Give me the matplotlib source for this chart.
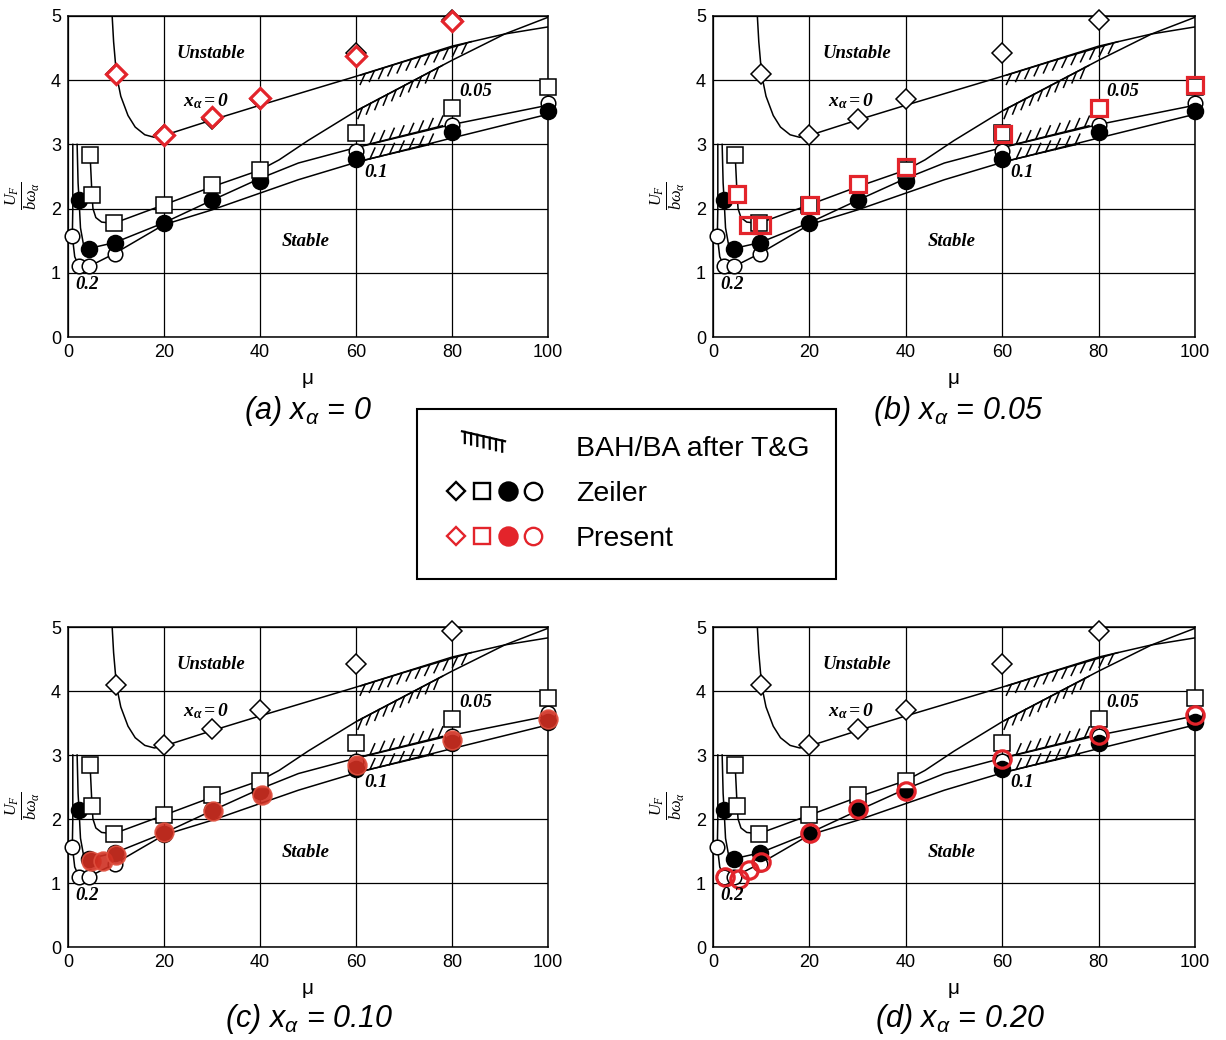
import numpy as np
import matplotlib
matplotlib.use("Agg")
import matplotlib.pyplot as plt
from matplotlib import patheffects
from matplotlib.lines import Line2D
from matplotlib.legend_handler import HandlerBase, HandlerTuple

plt.rcParams["font.family"] = "Liberation Sans"
plt.rcParams["mathtext.fontset"] = "custom"
plt.rcParams["mathtext.rm"] = "Liberation Serif"
plt.rcParams["mathtext.it"] = "Liberation Serif:italic"
plt.rcParams["mathtext.bf"] = "Liberation Serif:bold"
plt.rcParams["mathtext.bfit"] = "Liberation Serif:bold:italic"
plt.rcParams["mathtext.sf"] = "Liberation Sans:italic"

RED = "#e3242b"

# --- Theodorsen & Garrick curves (same background in every panel) ---
tg0_mu = [9.2, 9.5, 10.1, 11, 12.5, 14, 16, 18, 20, 30, 40, 60, 80, 91, 100]
tg0_y = [5.0, 4.6, 4.08, 3.75, 3.45, 3.27, 3.15, 3.11, 3.14, 3.38, 3.61, 4.06, 4.53, 4.72, 4.83]

tg05_mu = [4.6, 5.0, 5.2, 5.8, 7.0, 9.5, 20, 30, 40, 44, 50, 60, 80, 91, 100]
tg05_y = [2.84, 2.21, 2.0, 1.86, 1.79, 1.77, 2.06, 2.34, 2.6, 2.76, 3.06, 3.52, 4.31, 4.72, 4.98]

tg10_mu = [1.9, 2.1, 2.3, 2.6, 3.2, 4.4, 9.7, 20, 30, 40, 48, 60, 80, 100]
tg10_y = [3.0, 2.4, 2.14, 1.7, 1.45, 1.38, 1.47, 1.78, 2.13, 2.47, 2.71, 2.95, 3.31, 3.61]

tg20_mu = [1.0, 1.0, 0.9, 1.4, 2.3, 4.4, 9.7, 20, 30, 48, 60, 80, 100]
tg20_y = [3.0, 2.0, 1.57, 1.25, 1.1, 1.1, 1.3, 1.75, 1.98, 2.45, 2.72, 3.1, 3.47]

# --- BAH/BA after T&G (hatched segments) ---
bah0_mu, bah0_y = [61, 70, 84], [4.08, 4.29, 4.60]
bah05_mu, bah05_y = [60.5, 78], [3.54, 4.23]
bah10_mu, bah10_y = [62, 78], [2.99, 3.29]
bah20_mu, bah20_y = [62, 76], [2.76, 3.01]

# --- Zeiler points ---
z_dia_mu = [10, 20, 30, 40, 60, 80]
z_dia_y = [4.1, 3.15, 3.4, 3.7, 4.42, 4.93]
z_sq_mu = [4.5, 4.9, 9.6, 20, 30, 40, 60, 80, 100]
z_sq_y = [2.84, 2.21, 1.77, 2.06, 2.37, 2.6, 3.18, 3.56, 3.89]
z_fc_mu = [2.2, 4.4, 9.7, 20, 30, 40, 60, 80, 100]
z_fc_y = [2.14, 1.37, 1.47, 1.77, 2.14, 2.43, 2.78, 3.19, 3.52]
z_oc_mu = [0.9, 2.3, 4.4, 9.7, 60, 80, 100]
z_oc_y = [1.57, 1.1, 1.1, 1.3, 2.9, 3.3, 3.65]

# --- Present points ---
p_a_mu = [10, 20, 30, 40, 60, 80]
p_a_y = [4.1, 3.14, 3.42, 3.73, 4.37, 4.92]
p_b_mu = [4.9, 7.3, 10.2, 20.2, 30, 40, 60.2, 80, 100]
p_b_y = [2.22, 1.75, 1.75, 2.06, 2.38, 2.65, 3.16, 3.57, 3.92]
p_c_mu = [4.7, 7.2, 10.1, 20, 30.2, 40.4, 60.2, 80, 100]
p_c_y = [1.34, 1.34, 1.44, 1.80, 2.12, 2.38, 2.85, 3.23, 3.56]
p_d_mu = [2.5, 5.3, 7.5, 10, 20.2, 30, 40, 60, 80, 100]
p_d_y = [1.09, 1.07, 1.2, 1.33, 1.78, 2.15, 2.44, 2.93, 3.31, 3.63]

captions = ["(a) $\\mathsf{x_\\alpha}$ = 0", "(b) $\\mathsf{x_\\alpha}$ = 0.05",
            "(c) $\\mathsf{x_\\alpha}$ = 0.10", "(d) $\\mathsf{x_\\alpha}$ = 0.20"]

present = [
    (p_a_mu, p_a_y, dict(marker="D", ms=10.5, mfc="white", mec=RED, mew=2.3)),
    (p_b_mu, p_b_y, dict(marker="s", ms=12, mfc="none", mec=RED, mew=2.3)),
    (p_c_mu, p_c_y, dict(marker="o", ms=13.5, mfc="#cf2f22", mec="#e0503f", mew=1.2, alpha=0.9)),
    (p_d_mu, p_d_y, dict(marker="o", ms=12.5, mfc="none", mec=RED, mew=2.3)),
]

W, H = 1226, 1040
fig = plt.figure(figsize=(W / 100, H / 100), dpi=100)
rects = [[68, 337, 480, 321], [713, 337, 482, 321], [68, 947, 480, 320], [713, 947, 482, 320]]
cap_pos = [(308, 419), (958, 419), (309, 1027), (960, 1027)]

serif_bi = dict(family="Liberation Serif", style="italic", weight="bold", fontsize=13.5)


def hatched(ax, mu, y, angle):
    ax.plot(mu, y, color="k", lw=1.1, zorder=2,
            path_effects=[patheffects.withTickedStroke(angle=angle, spacing=6.5, length=1.3)])


for i, (x0, y0, w, h) in enumerate(rects):
    ax = fig.add_axes([x0 / W, 1 - y0 / H, w / W, h / H])
    ax.set_xlim(0, 100)
    ax.set_ylim(0, 5)
    ax.set_xticks([0, 20, 40, 60, 80, 100])
    ax.set_yticks([0, 1, 2, 3, 4, 5])
    ax.tick_params(length=0, labelsize=13, pad=5)
    ax.grid(True, color="k", lw=0.9)
    ax.set_axisbelow(True)
    for s in ax.spines.values():
        s.set_linewidth(1.1)

    for mu, y in [(tg0_mu, tg0_y), (tg05_mu, tg05_y), (tg10_mu, tg10_y), (tg20_mu, tg20_y)]:
        ax.plot(mu, y, color="k", lw=1.1, zorder=2)
    hatched(ax, bah0_mu, bah0_y, -132)
    hatched(ax, bah05_mu, bah05_y, -140)
    hatched(ax, bah10_mu, bah10_y, 52)
    hatched(ax, bah20_mu, bah20_y, 52)

    ax.plot(z_oc_mu, z_oc_y, ls="none", marker="o", ms=10.5, mfc="white", mec="k", mew=1.1, zorder=3, clip_on=False)
    ax.plot(z_fc_mu, z_fc_y, ls="none", marker="o", ms=11.5, mfc="k", mec="k", mew=1.1, zorder=3.1, clip_on=False)
    ax.plot(z_sq_mu, z_sq_y, ls="none", marker="s", ms=11, mfc="white", mec="k", mew=1.1, zorder=3.2, clip_on=False)
    ax.plot(z_dia_mu, z_dia_y, ls="none", marker="D", ms=10, mfc="white", mec="k", mew=1.1, zorder=3.2, clip_on=False)

    pmu, py, style = present[i]
    ax.plot(pmu, py, ls="none", zorder=4, clip_on=False, **style)

    ax.text(29.8, 4.42, "Unstable", ha="center", va="center", zorder=5, **serif_bi)
    ax.text(49.5, 1.48, "Stable", ha="center", va="center", zorder=5, **serif_bi)
    ax.text(28.7, 3.68, r"$\mathbfit{x_\alpha = 0}$", ha="center", va="center", fontsize=14, zorder=5)
    ax.text(85, 3.82, "0.05", ha="center", va="center", zorder=5, **serif_bi)
    ax.text(64.2, 2.57, "0.1", ha="center", va="center", zorder=5, **serif_bi)
    ax.text(3.9, 0.81, "0.2", ha="center", va="center", zorder=5, **serif_bi)

    ax.set_xlabel("μ", fontsize=15, labelpad=6)
    ax.set_ylabel(r"$\frac{U_F}{b\omega_\alpha}$", fontsize=17)
    ax.yaxis.set_label_coords(-0.054, 0.44)

    cx, cy = cap_pos[i]
    fig.text(cx / W, 1 - cy / H, captions[i], ha="center", va="baseline", fontsize=22, style="italic")


class HandlerBAH(HandlerBase):
    def create_artists(self, legend, orig_handle, xdescent, ydescent, width, height, fontsize, trans):
        line = Line2D([-xdescent + 0.18 * width, -xdescent + 0.6 * width],
                      [height * 1.25, height * 0.75], color="k", lw=1.6, transform=trans,
                      path_effects=[patheffects.withTickedStroke(angle=-77, spacing=4.2, length=1.9)])
        return [line]


bah_handle = Line2D([], [], color="k")
zeiler = (Line2D([], [], ls="none", marker="D", ms=9.5, mfc="white", mec="k", mew=1.7),
          Line2D([], [], ls="none", marker="s", ms=11, mfc="white", mec="k", mew=1.7),
          Line2D([], [], ls="none", marker="o", ms=13, mfc="k", mec="k", mew=1.7),
          Line2D([], [], ls="none", marker="o", ms=12.5, mfc="white", mec="k", mew=1.7))
pres = (Line2D([], [], ls="none", marker="D", ms=9.5, mfc="white", mec=RED, mew=1.7),
        Line2D([], [], ls="none", marker="s", ms=11, mfc="white", mec=RED, mew=1.7),
        Line2D([], [], ls="none", marker="o", ms=13, mfc=RED, mec=RED, mew=1.7),
        Line2D([], [], ls="none", marker="o", ms=12.5, mfc="white", mec=RED, mew=1.7))

leg = fig.legend([bah_handle, zeiler, pres], ["BAH/BA after T&G", "Zeiler", "Present"],
                 handler_map={bah_handle: HandlerBAH(), tuple: HandlerTuple(ndivide=None, pad=0)},
                 loc="center", bbox_to_anchor=(626.5 / W, 1 - 494 / H),
                 fontsize=20.5, handlelength=3.6, handletextpad=1.05, labelspacing=0.66,
                 borderpad=0.95, frameon=True, fancybox=False, edgecolor="k", framealpha=1)
leg.get_frame().set_linewidth(1.5)

fig.savefig("out.png", dpi=100)
